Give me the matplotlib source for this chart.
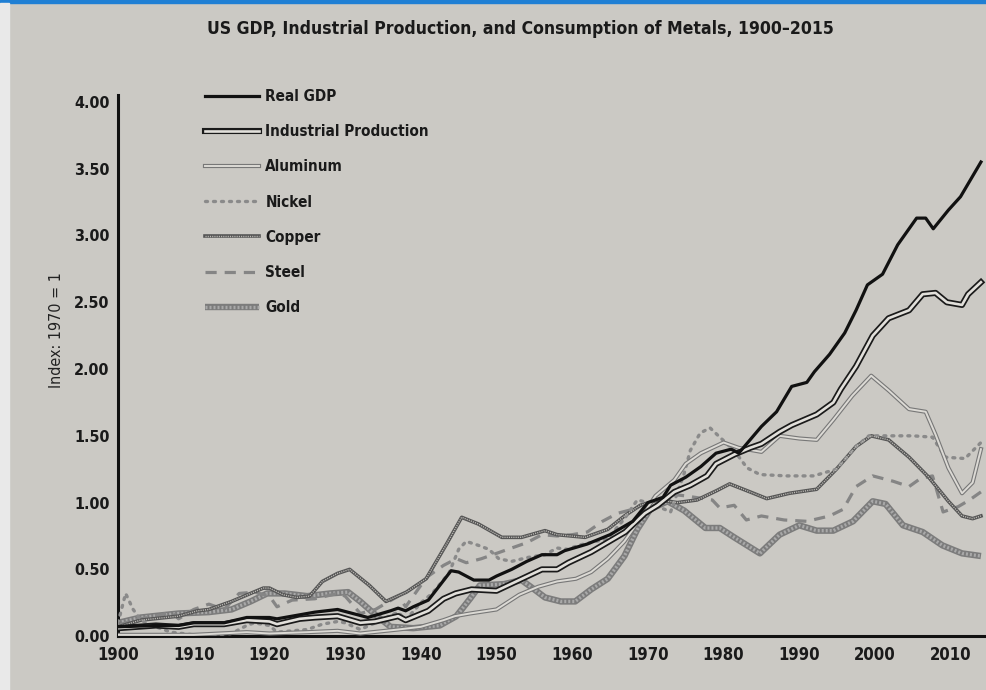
import matplotlib
matplotlib.use("Agg")
import matplotlib.pyplot as plt
from matplotlib.legend_handler import HandlerTuple
from matplotlib.patches import Rectangle

plt.rcParams['font.family'] = ['DejaVu Sans']
plt.rcParams['font.stretch'] = 'condensed'

# values (index, 1970 = 1)
gdp_years = [1900, 1905, 1908, 1910, 1914, 1917, 1920, 1921, 1924, 1926, 1929, 1931, 1933, 1936,
             1937, 1938, 1939, 1941, 1944, 1945, 1947, 1949, 1950, 1952, 1954, 1956, 1958, 1959,
             1962, 1965, 1968, 1970, 1972, 1973, 1975, 1977, 1979, 1981, 1982, 1983.5, 1985, 1987,
             1989, 1991, 1992, 1994, 1996, 1997.5, 1999, 2001, 2003, 2005.5, 2006.7, 2007.7,
             2009.7, 2011.3, 2014]
gdp = [0.07, 0.08, 0.08, 0.10, 0.10, 0.14, 0.14, 0.13, 0.16, 0.18, 0.20, 0.17, 0.14, 0.19,
       0.21, 0.19, 0.22, 0.27, 0.49, 0.48, 0.42, 0.42, 0.45, 0.50, 0.56, 0.61, 0.61, 0.64,
       0.69, 0.76, 0.86, 1.00, 1.04, 1.13, 1.19, 1.27, 1.37, 1.40, 1.37, 1.47, 1.57, 1.68,
       1.87, 1.90, 1.98, 2.11, 2.27, 2.44, 2.63, 2.71, 2.93, 3.13, 3.13, 3.05,
       3.19, 3.29, 3.55]

ip_years = [1900, 1905, 1908, 1910, 1914, 1917, 1920, 1921, 1924, 1926, 1929, 1932, 1934, 1937,
            1938, 1941, 1943, 1944.6, 1946.7, 1950, 1953, 1956, 1958, 1959.5, 1962.5, 1967,
            1969.6, 1971.3, 1973.5, 1975.6, 1977.8, 1979, 1981.4, 1983.5, 1985, 1987.4, 1989,
            1992.3, 1994.5, 1995.5, 1997.5, 1999.7, 2001.8, 2004.5, 2006.3, 2008, 2009.5,
            2011.5, 2012.3, 2014]
ip = [0.06, 0.08, 0.07, 0.09, 0.09, 0.12, 0.11, 0.09, 0.13, 0.14, 0.15, 0.10, 0.11, 0.15,
      0.12, 0.19, 0.28, 0.32, 0.35, 0.34, 0.42, 0.50, 0.50, 0.55, 0.63, 0.78,
      0.92, 0.98, 1.08, 1.13, 1.20, 1.29, 1.36, 1.41, 1.44, 1.53, 1.58,
      1.66, 1.75, 1.85, 2.02, 2.25, 2.38, 2.44, 2.56, 2.57, 2.50,
      2.48, 2.56, 2.65]

aluminum_years = [1900, 1910, 1917, 1920, 1925, 1929, 1932, 1937, 1940, 1943, 1944.5, 1946.5,
                  1950, 1953, 1955.5, 1958, 1960.5, 1962.5, 1964.7, 1966.9, 1969, 1971, 1973.5,
                  1975, 1977, 1980, 1982, 1985, 1987.4, 1990, 1992.3, 1994.5, 1997, 1999.5,
                  2001.8, 2004.5, 2006.7, 2008, 2009.7, 2011.5, 2012.9, 2014]
aluminum = [0.01, 0.01, 0.03, 0.02, 0.03, 0.04, 0.02, 0.05, 0.07, 0.12, 0.15, 0.17,
            0.20, 0.31, 0.37, 0.41, 0.43, 0.48, 0.58, 0.71, 0.88, 1.05, 1.17,
            1.29, 1.37, 1.45, 1.41, 1.38, 1.50, 1.48, 1.47, 1.62, 1.80, 1.95,
            1.84, 1.70, 1.68, 1.51, 1.26, 1.07, 1.15, 1.40]

nickel_years = [1900, 1901, 1902, 1903, 1905, 1907, 1910, 1913, 1915, 1917, 1918, 1920, 1921,
                1923, 1925, 1927, 1929, 1930, 1932, 1934, 1937, 1938, 1940, 1941.5, 1943.7,
                1945, 1946, 1947.6, 1949, 1950.3, 1952, 1954.2, 1956.4, 1958, 1959.4, 1960.8,
                1964.7, 1966.9, 1968.6, 1970, 1972.2, 1973, 1974.8, 1975.6, 1976.9, 1978.2,
                1979.5, 1981.4, 1983.1, 1984.8, 1988.3, 1991.9, 1994.9, 1997.5, 1999.2,
                2001.8, 2005, 2007.6, 2009.3, 2011.9, 2013.3, 2014]
nickel = [0.10, 0.32, 0.20, 0.12, 0.07, 0.03, 0.01, 0.01, 0.02, 0.08, 0.10, 0.08, 0.03,
          0.04, 0.05, 0.09, 0.11, 0.10, 0.05, 0.10, 0.18, 0.12, 0.25, 0.32, 0.47,
          0.65, 0.71, 0.68, 0.65, 0.58, 0.56, 0.59, 0.61, 0.66, 0.65, 0.68,
          0.73, 0.88, 1.02, 1.00, 0.95, 0.93, 1.22, 1.39, 1.52, 1.56,
          1.49, 1.39, 1.26, 1.21, 1.20, 1.20, 1.25, 1.42, 1.50,
          1.50, 1.50, 1.49, 1.34, 1.33, 1.41, 1.45]

copper_years = [1900, 1903, 1908, 1910.5, 1912, 1915, 1917.5, 1919.2, 1920, 1921.8, 1923.6,
                1925.3, 1927, 1929, 1930.6, 1933.2, 1935.4, 1938.1, 1940.7, 1943.3, 1945.4,
                1947.6, 1950.7, 1953.3, 1956.4, 1958, 1961.7, 1964.7, 1966.9, 1969, 1971.3,
                1973.9, 1976.5, 1979.1, 1980.8, 1983.5, 1985.7, 1988.7, 1992.3, 1994.9,
                1997.5, 1999.5, 2001.8, 2004.5, 2007.1, 2009.7, 2011.5, 2012.9, 2014]
copper = [0.07, 0.12, 0.15, 0.19, 0.20, 0.26, 0.32, 0.36, 0.36, 0.31, 0.29,
          0.30, 0.41, 0.47, 0.50, 0.38, 0.26, 0.33, 0.43, 0.68, 0.89,
          0.84, 0.74, 0.74, 0.79, 0.76, 0.74, 0.80, 0.90, 0.98, 1.02,
          1.00, 1.02, 1.09, 1.14, 1.08, 1.03, 1.07, 1.10, 1.25,
          1.42, 1.50, 1.47, 1.34, 1.19, 1.01, 0.90, 0.88, 0.90]

steel_years = [1900, 1902, 1905, 1907, 1908, 1910, 1912, 1914, 1916, 1918, 1920, 1921, 1923,
               1926, 1929, 1930, 1932, 1934, 1937, 1938, 1940, 1941, 1943, 1944.7, 1946, 1948,
               1950, 1952, 1954, 1956, 1958, 1960, 1962, 1964, 1966, 1968, 1970, 1972, 1973.5,
               1975, 1978.5, 1979.5, 1981.4, 1983, 1985, 1988, 1991, 1994, 1995.8, 1997.5,
               1999.7, 2002.4, 2004.5, 2006, 2007.6, 2009, 2011, 2012.5, 2014]
steel = [0.08, 0.12, 0.15, 0.18, 0.13, 0.20, 0.24, 0.20, 0.32, 0.33, 0.30, 0.22, 0.27,
         0.28, 0.32, 0.30, 0.17, 0.20, 0.30, 0.22, 0.38, 0.45, 0.53, 0.58, 0.55, 0.58,
         0.62, 0.66, 0.70, 0.76, 0.75, 0.76, 0.78, 0.86, 0.92, 0.95, 1.00, 1.02, 1.06,
         1.05, 1.02, 0.96, 0.98, 0.87, 0.90, 0.87, 0.86, 0.90, 0.95, 1.12,
         1.20, 1.16, 1.12, 1.18, 1.20, 0.93, 0.97, 1.02, 1.08]

gold_years = [1900, 1903, 1908, 1912, 1915, 1917.5, 1919.7, 1922, 1925, 1928, 1930.4, 1932,
              1934, 1936, 1939, 1942.5, 1944.7, 1946.5, 1947.8, 1951, 1953.3, 1955, 1956.4,
              1958.5, 1960.4, 1962.5, 1964.7, 1966.9, 1968.6, 1970.3, 1972.6, 1974.8, 1977.6,
              1979.5, 1981.4, 1984.8, 1987.4, 1990, 1992.3, 1994.5, 1997.1, 1999.7, 2001.4,
              2003.7, 2006.3, 2008.9, 2011.5, 2014]
gold = [0.10, 0.14, 0.17, 0.18, 0.20, 0.26, 0.32, 0.32, 0.30, 0.32, 0.33, 0.26,
        0.16, 0.07, 0.06, 0.08, 0.15, 0.28, 0.38, 0.39, 0.42, 0.35, 0.29,
        0.26, 0.26, 0.35, 0.43, 0.60, 0.80, 0.95, 1.01, 0.94, 0.81,
        0.81, 0.74, 0.62, 0.76, 0.83, 0.79, 0.79, 0.86, 1.01, 0.99,
        0.83, 0.78, 0.68, 0.62, 0.60]

x_ticks = [1900, 1910, 1920, 1930, 1940, 1950, 1960, 1970, 1980, 1990, 2000, 2010]
y_ticks = [0, 0.5, 1.0, 1.5, 2.0, 2.5, 3.0, 3.5, 4.0]

paper = '#cbc9c4'

fig = plt.figure(figsize=(9.87, 6.90), dpi=100, facecolor=paper)
ax = fig.add_axes([0.1196, 0.078, 0.8804, 0.784])
ax.set_facecolor(paper)

# gold: thick hatched grey
g1, = ax.plot(gold_years, gold, color='#7c7c7c', lw=4.6, solid_capstyle='butt', zorder=2)
g2, = ax.plot(gold_years, gold, color='#a9a9a9', lw=2.4, dashes=(0.6, 0.6), zorder=2.1)
# steel: grey dashes
s1, = ax.plot(steel_years, steel, color='#858585', lw=2.3, dashes=(3.5, 2.5), zorder=3)
# copper: chain
c1, = ax.plot(copper_years, copper, color='#555555', lw=2.6, zorder=3)
c2, = ax.plot(copper_years, copper, color='#bdbbb6', lw=1.0, dashes=(0.8, 0.8), zorder=3.1)
# nickel: dotted
n1, = ax.plot(nickel_years, nickel, color='#8a8a8a', lw=2.4, dashes=(0.6, 1.8),
              dash_capstyle='round', zorder=3)
# aluminum: thin grey double line
a1, = ax.plot(aluminum_years, aluminum, color='#777777', lw=3.0, zorder=4)
a2, = ax.plot(aluminum_years, aluminum, color='#dcdad5', lw=1.4, zorder=4.1)
# industrial production: black double line
p1, = ax.plot(ip_years, ip, color='#1a1a1a', lw=4.4, zorder=5)
p2, = ax.plot(ip_years, ip, color='#e2e0db', lw=1.9, zorder=5.1)
# real GDP
r1, = ax.plot(gdp_years, gdp, color='#111111', lw=2.3, zorder=6)

ax.set_xlim(1900, 2014.8)
ax.set_ylim(0, 4.05)
ax.set_xticks(x_ticks)
ax.set_yticks(y_ticks)
ax.set_yticklabels(['%.2f' % v for v in y_ticks])
ax.tick_params(length=0, labelsize=12, pad=7)
ax.tick_params(axis='y', labelsize=11.5, pad=6)
for lab in ax.get_xticklabels() + ax.get_yticklabels():
    lab.set_fontweight('bold')
    lab.set_color('#1a1a1a')

for side in ['top', 'right']:
    ax.spines[side].set_visible(False)
for side in ['left', 'bottom']:
    ax.spines[side].set_linewidth(2.2)
    ax.spines[side].set_color('#111111')

ax.set_ylabel('Index: 1970 = 1', fontsize=11.5, color='#222222')
ax.yaxis.set_label_coords(-0.062, 0.566)

fig.text(0.527, 0.958, 'US GDP, Industrial Production, and Consumption of Metals, 1900\u20132015',
         ha='center', va='center', fontsize=12.6, fontweight='bold', color='#1a1a1a')

handles = [r1, (p1, p2), (a1, a2), n1, (c1, c2), s1, (g1, g2)]
labels = ['Real GDP', 'Industrial Production', 'Aluminum', 'Nickel', 'Copper', 'Steel', 'Gold']
leg = fig.legend(handles, labels, loc='upper left', bbox_to_anchor=(0.200, 0.882),
                 frameon=False, handlelength=3.5, handletextpad=0.45, labelspacing=1.32,
                 borderpad=0, handler_map={tuple: HandlerTuple(ndivide=1)},
                 prop={'size': 11, 'weight': 'bold'})
for t in leg.get_texts():
    t.set_color('#1a1a1a')

# screenshot border
fig.add_artist(Rectangle((0, 0.995), 1, 0.005, transform=fig.transFigure,
                         color='#1f7fd4', zorder=10))
fig.add_artist(Rectangle((0, 0), 0.009, 0.995, transform=fig.transFigure,
                         color='#e9e9e9', zorder=10))

fig.savefig('out.png', dpi=100, facecolor=paper)
